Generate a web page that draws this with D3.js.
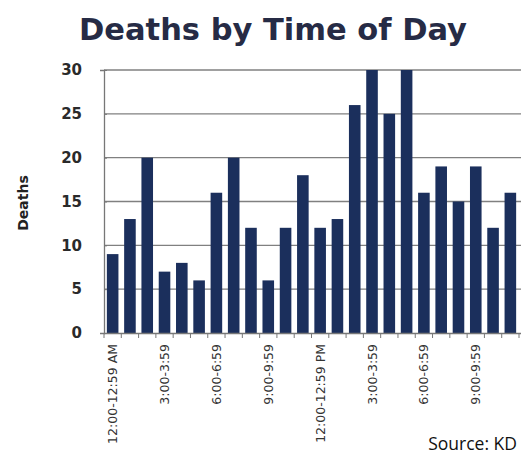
<!DOCTYPE html>
<html><head><meta charset="utf-8">
<script src="https://cdn.jsdelivr.net/npm/d3@7"></script>
<style>body{margin:0;background:#fff}svg{display:block}</style>
</head><body>
<script>
const hours = ["12:00-12:59 AM","1:00-1:59","2:00-2:59","3:00-3:59","4:00-4:59","5:00-5:59","6:00-6:59","7:00-7:59","8:00-8:59","9:00-9:59","10:00-10:59","11:00-11:59","12:00-12:59 PM","1:00-1:59 ","2:00-2:59 ","3:00-3:59 ","4:00-4:59 ","5:00-5:59 ","6:00-6:59 ","7:00-7:59 ","8:00-8:59 ","9:00-9:59 ","10:00-10:59 ","11:00-11:59 "];
const deaths = [9,13,20,7,8,6,16,20,12,6,12,18,12,13,26,30,25,30,16,19,15,19,12,16];
const yTicks = [0,5,10,15,20,25,30];
const title = "Deaths by Time of Day";
const yTitle = "Deaths";
const source = "Source: KD";

const W=521,H=457;
const svg=d3.select("body").append("svg").attr("width",W).attr("height",H);
const x=d3.scaleBand().domain(hours).range([104,519]).paddingInner(0.33).paddingOuter(0.165);
const y=d3.scaleLinear().domain([0,30]).range([333,70]);

// gridlines
svg.append("g").selectAll("line").data(yTicks.filter(d=>d>0)).join("line")
 .attr("x1",104).attr("x2",W).attr("y1",d=>y(d)).attr("y2",d=>y(d))
 .attr("stroke","#808080").attr("stroke-width",1.3);

// bars
svg.append("g").selectAll("rect").data(deaths).join("rect")
 .attr("x",(d,i)=>x(hours[i])).attr("width",x.bandwidth())
 .attr("y",d=>y(d)).attr("height",d=>y(0)-y(d))
 .attr("fill","#1b2f5c");

// y axis
const ya=svg.append("g").attr("transform","translate(104,0)")
 .call(d3.axisLeft(y).tickValues(yTicks).tickSize(4).tickPadding(18));
ya.select(".domain").attr("stroke","#777").attr("stroke-width",1.3);
ya.selectAll(".tick line").attr("stroke","#777").attr("x2",3);
ya.selectAll("text").attr("font-family","DejaVu Sans, sans-serif").attr("font-weight","bold")
 .attr("font-size",15).attr("fill","#2a2a2a");

// x axis
const outer=d3.scaleLinear().domain([0,24]).range([104,519]);
const xg=svg.append("g");
xg.append("line").attr("x1",104).attr("x2",W).attr("y1",333.5).attr("y2",333.5).attr("stroke","#777").attr("stroke-width",1.3);
xg.selectAll(".t").data(d3.range(25)).join("line").attr("class","t")
 .attr("x1",d=>outer(d)).attr("x2",d=>outer(d)).attr("y1",333).attr("y2",338).attr("stroke","#777");
xg.selectAll("text").data(hours.filter((d,i)=>i%3===0)).join("text")
 .attr("transform",d=>`translate(${x(d)+x.bandwidth()/2+4.5},344) rotate(-90)`)
 .attr("text-anchor","end").attr("font-family","DejaVu Sans, sans-serif")
 .attr("font-size",12.5).attr("fill","#333").text(d=>d.trim());

// titles
svg.append("text").attr("x",273).attr("y",40).attr("text-anchor","middle")
 .attr("font-family","DejaVu Sans, sans-serif").attr("font-weight","bold").attr("font-size",30.5)
 .attr("fill","#262b45").text(title);
svg.append("text").attr("transform","translate(28,203) rotate(-90)").attr("text-anchor","middle")
 .attr("font-family","DejaVu Sans, sans-serif").attr("font-weight","bold").attr("font-size",14)
 .attr("fill","#222").text(yTitle);
svg.append("text").attr("x",517).attr("y",450).attr("text-anchor","end")
 .attr("font-family","Open Sans, sans-serif").attr("font-size",17.5).attr("fill","#111").text(source);
</script>
</body></html>
